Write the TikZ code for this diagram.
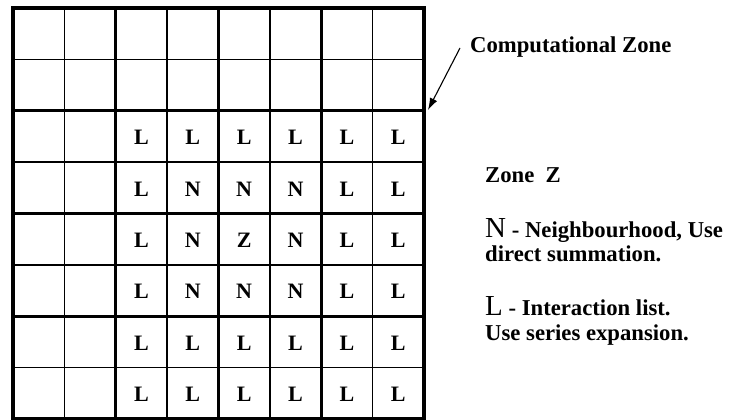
\documentclass[tikz,border=0pt]{standalone}
\usepackage{fontspec}
\setmainfont{Liberation Serif}
\usetikzlibrary{arrows.meta}
\newcommand\mybigfont{\fontsize{29}{29}\selectfont\mdseries}
\begin{document}
\begin{tikzpicture}[x=1pt,y=-1pt,
  thingrid/.style={line width=1.3pt},
  thickgrid/.style={line width=3pt},
  cell/.style={font=\fontsize{22}{22}\selectfont\bfseries, anchor=center, inner sep=0pt},
  lab/.style={font=\fontsize{22.7}{22.7}\selectfont\bfseries, anchor=base west, inner sep=0pt}]
\useasboundingbox (0,0) rectangle (737,420);
\fill[white] (0,0) rectangle (737,420);
% grid
\foreach \i in {1,3,5,7} {
  \draw[thingrid] ({13+\i*51.375},8) -- ({13+\i*51.375},419);
  \draw[thingrid] (13,{8+\i*51.375}) -- (424,{8+\i*51.375});
}
\foreach \i in {2,4,6} {
  \draw[thickgrid] ({13+\i*51.375},8) -- ({13+\i*51.375},419);
  \draw[thickgrid] (13,{8+\i*51.375}) -- (424,{8+\i*51.375});
}
\draw[line width=3.4pt] (13,8) rectangle (424,419);
% letters
\foreach \r/\row in {3/{L,L,L,L,L,L},4/{L,N,N,N,L,L},5/{L,N,Z,N,L,L},6/{L,N,N,N,L,L},7/{L,L,L,L,L,L},8/{L,L,L,L,L,L}} {
  \foreach \t [count=\c from 3] in \row {
    \node[cell] (c-\r-\c) at ({13+(\c-0.5)*51.375},{9+(\r-0.5)*51.375}) {\t};
  }
}
% labels
\node[lab] (cz) at (470,53) {Computational Zone};
\coordinate (tail) at (460,48);
\coordinate (tip) at (428,110);
\draw[line width=1.1pt,-{Latex[length=12pt,width=8pt]}] (tail) -- (tip);
\node[lab] (zz) at (485,182) {Zone\ \ Z};
\node[lab] (nl1) at (485,237) {{\mybigfont N} - Neighbourhood, Use};
\node[lab] (nl2) at (485,261) {direct summation.};
\node[lab] (ll1) at (485,315) {{\mybigfont L} - Interaction list.};
\node[lab] (ll2) at (485,340) {Use series expansion.};
\end{tikzpicture}
\end{document}
